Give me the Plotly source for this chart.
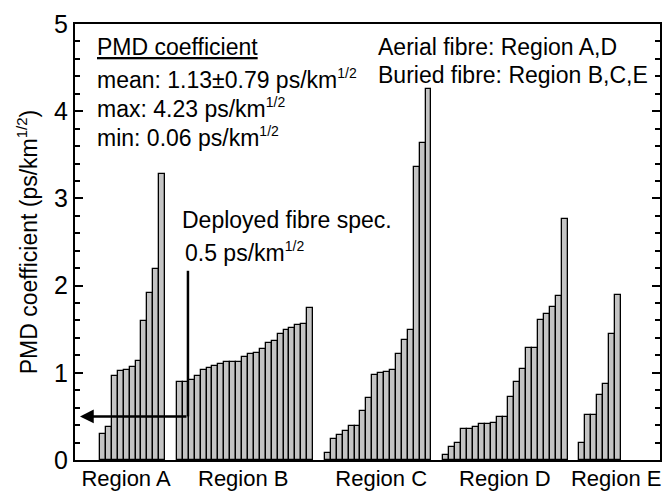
import plotly.graph_objects as go

# ---- data ----
regions = ["Region A", "Region B", "Region C", "Region D", "Region E"]
region_a = [0.30, 0.38, 0.96, 1.02, 1.03, 1.07, 1.13, 1.59, 1.91, 2.19, 3.28]
region_b = [0.89, 0.89, 0.92, 0.96, 1.03, 1.05, 1.08, 1.10, 1.12, 1.12, 1.12, 1.18,
            1.21, 1.23, 1.27, 1.34, 1.37, 1.44, 1.49, 1.51, 1.55, 1.56, 1.74]
region_c = [0.08, 0.24, 0.29, 0.33, 0.39, 0.39, 0.56, 0.71, 0.98, 1.00, 1.01, 1.03,
            1.22, 1.38, 1.49, 3.36, 3.63, 4.25]
region_d = [0.06, 0.15, 0.19, 0.36, 0.36, 0.38, 0.41, 0.41, 0.42, 0.49, 0.49, 0.72,
            0.89, 1.04, 1.28, 1.29, 1.61, 1.67, 1.76, 1.88, 2.76]
region_e = [0.20, 0.52, 0.52, 0.75, 0.87, 1.45, 1.89]
y_ticks = [0, 1, 2, 3, 4, 5]
spec_value = 0.5
spec_top = 2.17

series = [region_a, region_b, region_c, region_d, region_e]

# ---- layout helpers ----
GAP = 2            # empty slots between regions
label_shift = [-1.1, -0.3, 0.5, -0.1, 2.7]
FONT = "Liberation Sans, Arial, sans-serif"
SUP = '<sup><span style="font-size:14px">1/2</span></sup>'

fig = go.Figure()
start = 0
centers = []
for name, vals in zip(regions, series):
    xs = [start + i for i in range(len(vals))]
    fig.add_trace(go.Bar(x=xs, y=vals, width=1, name=name,
                         marker=dict(color="#c4c4c4",
                                     line=dict(color="black", width=1.3)),
                         showlegend=False))
    centers.append(start + (len(vals) - 1) / 2)
    start += len(vals) + GAP

label_pos = [c + s for c, s in zip(centers, label_shift)]

# spec marker: vertical line and horizontal arrow at 0.5
spec_x = 14.36
arrow_tip = -3.88
fig.add_shape(type="line", xref="x", yref="y", x0=spec_x, x1=spec_x,
              y0=spec_value, y1=spec_top, line=dict(color="black", width=2.5))
fig.add_annotation(x=arrow_tip, y=spec_value, ax=spec_x, ay=spec_value,
                   xref="x", yref="y", axref="x", ayref="y", text="",
                   showarrow=True, arrowhead=2, arrowsize=1.1, arrowwidth=2.5,
                   arrowcolor="black")

def px_to_paper(px, py):
    return (px - 75) / 585.0, (460 - py) / 436.0

texts = [
    ("<u>PMD coefficient</u>", 95, 47),
    ("mean: 1.13±0.79 ps/km" + SUP, 95, 79),
    ("max: 4.23 ps/km" + SUP, 95, 108),
    ("min: 0.06 ps/km" + SUP, 95, 137),
    ("Aerial fibre: Region A,D", 376, 47),
    ("Buried fibre: Region B,C,E", 376, 75),
    ("Deployed fibre spec.", 180, 220),
    ("0.5 ps/km" + SUP, 183, 252),
]
for t, px, py in texts:
    xp, yp = px_to_paper(px, py)
    fig.add_annotation(x=xp, y=yp, xref="paper", yref="paper", text=t,
                       showarrow=False, xanchor="left", yanchor="middle",
                       font=dict(family=FONT, size=23, color="black"))

fig.update_layout(
    width=669, height=495,
    margin=dict(l=75, r=9, t=24, b=35, autoexpand=False),
    plot_bgcolor="white", paper_bgcolor="white",
    bargap=0,
    font=dict(family=FONT, color="black"),
    xaxis=dict(range=[-4.72, 94.1], showline=True, mirror=True,
               linecolor="black", linewidth=2, ticks="", showgrid=False,
               zeroline=False, tickvals=label_pos, ticktext=regions,
               automargin=False, ticklabelstandoff=-2,
               tickfont=dict(family=FONT, size=22)),
    yaxis=dict(range=[0, 5], tickvals=y_ticks, showline=True, mirror="ticks",
               linecolor="black", linewidth=2, ticks="inside", ticklen=8,
               tickwidth=2, tickcolor="black", showgrid=False, zeroline=False,
               automargin=False,
               tickfont=dict(family=FONT, size=25),
               minor=dict(ticks="inside", ticklen=5, tickwidth=1.5,
                          dtick=0.2, tickcolor="black", showgrid=False),
               title=dict(text='PMD coefficient (ps/km<sup><span style="font-size:15px">1/2</span></sup>)',
                          font=dict(family=FONT, size=23), standoff=10)),
)

fig.write_html("out.html")
